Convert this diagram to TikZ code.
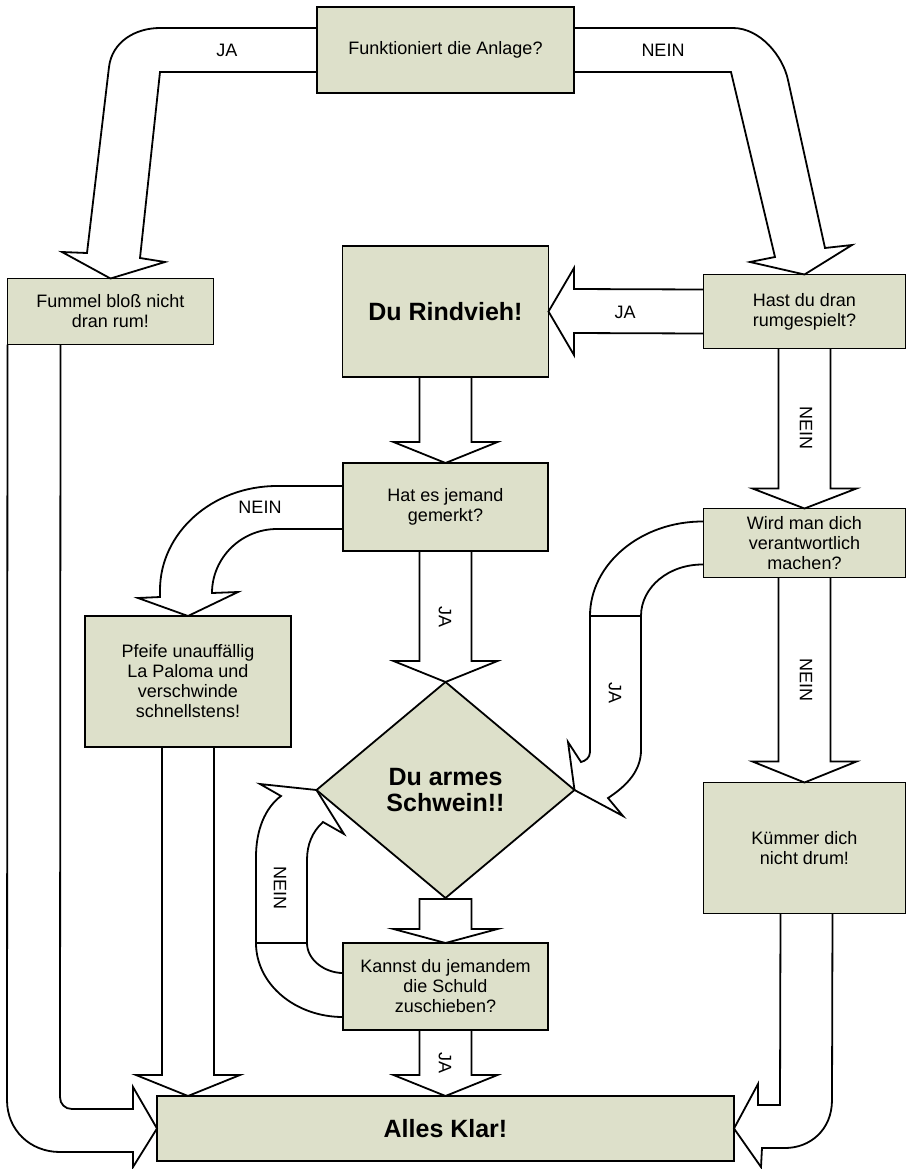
\documentclass[tikz,border=0pt]{standalone}
\usepackage{fontspec}
\setmainfont{Liberation Sans}
\usepackage{tikz}
\usetikzlibrary{positioning,calc,shapes.geometric}
\definecolor{boxfill}{RGB}{221,224,202}
\tikzset{
  box/.style={draw, fill=boxfill, line width=0.9pt, inner sep=0pt, outer sep=0pt,
    align=center, font=\fontsize{9}{10}\selectfont},
  bold box/.style={box, font=\fontsize{12.5}{13}\selectfont\bfseries},
  band/.style={draw, line width=0.9pt, line join=miter},
  lbl/.style={inner sep=0pt, font=\fontsize{9}{10}\selectfont},
}
% straight block arrow downwards: from, to, head length
\def\blockdown#1#2#3{%
  \coordinate (tip) at (#1.south |- #2.north);
  \draw[band] ($(#1.south)+(-26,0)$) -- ($(tip)+(-26,-#3)$) -- ($(tip)+(-52,-#3)$) -- (tip)
    -- ($(tip)+(52,-#3)$) -- ($(tip)+(26,-#3)$) -- ($(#1.south)+(26,0)$);}

\begin{document}
\begin{tikzpicture}[x=0.5pt, y=-0.5pt]
\useasboundingbox (0,0) rectangle (906,1169);
\node[box, minimum width=128.5pt, minimum height=43pt] (Q) at (445.5,50) {Funktioniert die Anlage?};
\node[bold box, below=76.5pt of Q, minimum width=103pt, minimum height=65.5pt] (R) {Du Rindvieh!};
\node[box, left=64.5pt of R, minimum width=103pt, minimum height=33pt] (F) {Fummel bloß nicht\\dran rum!};
\node[box, right=77.5pt of R, minimum width=101pt, minimum height=37pt] (H) {Hast du dran\\rumgespielt?};
\node[box, below=43pt of R, minimum width=102.5pt, minimum height=44pt] (M) {Hat es jemand\\gemerkt?};
\node[box, below left=32.5pt and 26pt of M, minimum width=103pt, minimum height=65.5pt] (P) {Pfeife unauffällig\\La Paloma und\\verschwinde\\schnellstens!};
\node[box, below=80pt of H, minimum width=101pt, minimum height=34.5pt] (W) {Wird man dich\\verantwortlich\\machen?};
\node[box, below=102.5pt of W, minimum width=101pt, minimum height=65.5pt] (K) {Kümmer dich\\nicht drum!};
\node[bold box, shape=diamond, below=65.5pt of M, minimum width=129pt, minimum height=108pt] (S) {Du armes\\Schwein!!};
\node[box, below=22.5pt of S, minimum width=102.5pt, minimum height=43.5pt] (Z) {Kannst du jemandem\\die Schuld\\zuschieben?};
\node[bold box, below=33pt of Z, minimum width=288.5pt, minimum height=32.5pt] (A) {Alles Klar!};

% top: JA / NEIN
\draw[band] ($(Q.west)+(0,-22)$) -- (160,28) .. controls (135,28) and (112,42) .. (109,67)
  -- (87,253) -- (62,252) -- (F.north) -- (165,262) -- (140,258) -- (160,72) -- ($(Q.west)+(0,22)$);
\draw[band] ($(Q.east)+(0,-22)$) -- (733,28) .. controls (760,28) and (783,56) .. (788,80)
  -- (825,248) -- (852,245) -- (H.north) -- (750,262) -- (775,257) -- (731,72) -- ($(Q.east)+(0,22)$);
\node[lbl] (ja1) at (227,50) {JA};
\node[lbl] (nein1) at (663,50) {NEIN};

% Hast du -> Rindvieh
\draw[band] ($(H.west)+(0,-22)$) -- (574,289) -- (574,268) -- (R.east) -- (574,355) -- (574,333) -- ($(H.west)+(0,22)$);
\node[lbl] (ja2) at (625,312) {JA};

\blockdown{R}{M}{21}
\blockdown{M}{S}{21}
\blockdown{S}{Z}{14}
\draw[band] ($(S.south)+(-26,1)$) -- ($(S.south)+(26,1)$);
\blockdown{Z}{A}{21}
\blockdown{P}{A}{21}
\blockdown{H}{W}{20}
\blockdown{W}{K}{21}
\node[lbl, rotate=-90] (ja3) at (445,617) {JA};
\node[lbl, rotate=-90] (ja5) at (445,1063) {JA};
\node[lbl, rotate=-90] (nein2) at (806,428) {NEIN};
\node[lbl, rotate=-90] (nein4) at (806,680) {NEIN};

% Hat es jemand -> Pfeife
\draw[band] ($(M.west)+(0,-21)$) -- (277,486) .. controls (212,486) and (160,533) .. (160,590)
  -- (160,597) -- (138,598) -- (P.north) -- (238,592) -- (212,593)
  .. controls (212,558) and (241,529) .. (277,529) -- ($(M.west)+(0,22)$);
\node[lbl] (nein3) at (260,507) {NEIN};

% Wird man -> Schwein
\draw[band] ($(W.west)+(0,-21.5)$) .. controls (641,521) and (590,564) .. (590,616) -- (590,752)
  .. controls (590,758) and (585,761) .. (581,762) -- (568,742) -- (S.east) -- (623,816) -- (608,798)
  .. controls (628,785) and (641,770) .. (641,750) -- (641,616)
  .. controls (641,587) and (669,564) .. ($(W.west)+(0,21.5)$);
\draw[band] (590,616) -- (641,616);
\node[lbl, rotate=-90] (ja4) at (615,693) {JA};

% Kannst du -> Schwein
\draw[band] ($(Z.west)+(0,30.5)$) .. controls (295,1017) and (256,984) .. (256,943) -- (256,857)
  .. controls (256,830) and (265,808) .. (281,796) -- (260,784) -- (S.west) -- (344,834) -- (323,822)
  .. controls (312,832) and (307,845) .. (307,860) -- (307,943)
  .. controls (307,960) and (325,973) .. ($(Z.west)+(0,-13.5)$);
\draw[band] (256,943) -- (307,943);
\node[lbl, rotate=-90] (nein5) at (280,888) {NEIN};

% Fummel -> Alles Klar
\draw[band] (F.south west) -- (7,1100) .. controls (7,1130) and (30,1152) .. (60,1152)
  -- (133,1152) -- (133,1167) -- (A.west) -- (133,1087) -- (133,1109) -- (72,1109)
  .. controls (65,1109) and (60,1104) .. (60,1097) -- ($(F.south west)+(53,0)$);

% Kuemmer -> Alles Klar
\draw[band] ($(K.south west)+(77,0)$) -- (780,1105) -- (758,1105) -- (758,1084) -- (A.east)
  -- (761,1167) -- (762,1148) -- (785,1148) .. controls (810,1148) and (832,1130) .. (832,1100)
  -- ($(K.south west)+(129,0)$);
\end{tikzpicture}
\end{document}
